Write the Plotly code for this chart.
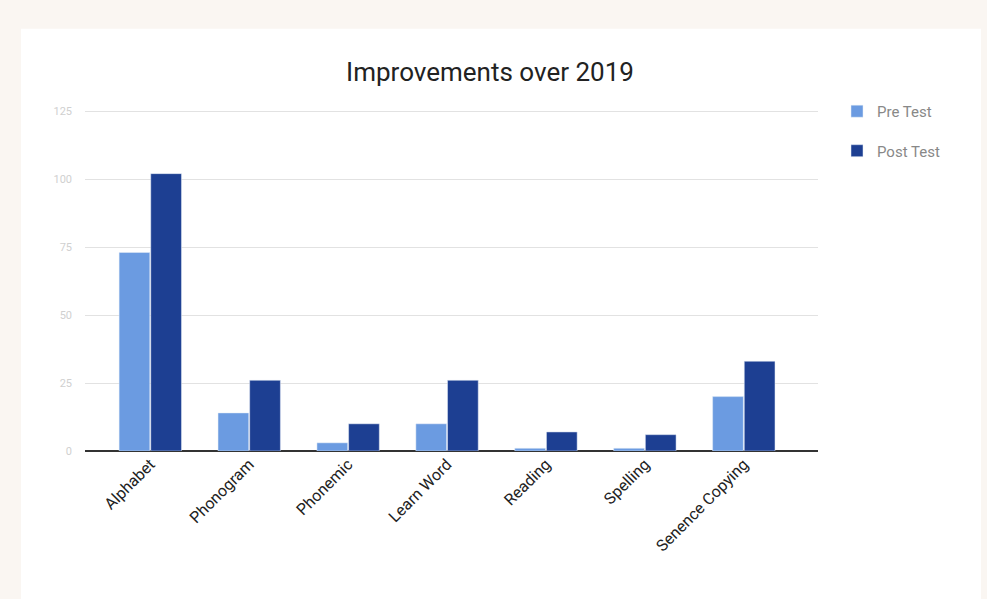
import plotly.graph_objects as go

categories = ["Alphabet", "Phonogram", "Phonemic", "Learn Word", "Reading", "Spelling", "Senence Copying"]
pre_test = [73, 14, 3, 10, 1, 1, 20]
post_test = [102, 26, 10, 26, 7, 6, 33]
y_ticks = [0, 25, 50, 75, 100, 125]

fig = go.Figure()
fig.add_trace(go.Bar(x=categories, y=pre_test, name="Pre Test", marker_color="#6b9be1",
                     legendgroup="a"))
fig.add_trace(go.Bar(x=categories, y=post_test, name="Post Test", marker_color="#1d3f92",
                     legendgroup="b"))

pw = 987 - 85 - 169
ph = 599 - 111 - 148
fig.update_layout(
    width=987, height=599,
    paper_bgcolor="#faf6f2",
    plot_bgcolor="white",
    margin=dict(l=85, r=169, t=110, b=148),
    barmode="group",
    bargap=0.36,
    bargroupgap=0.03,
    title=dict(text="Improvements over 2019", x=490/987, xanchor="center",
               y=1-72/599, yanchor="middle",
               font=dict(family="Roboto", size=26, color="#222")),
    font=dict(family="Roboto"),
    legend=dict(x=(837-85)/pw, y=(451-96)/ph, yanchor="top", xanchor="left",
                font=dict(size=15, color="#888"), tracegroupgap=17,
                itemwidth=30,
                bgcolor="rgba(0,0,0,0)"),
    shapes=[dict(type="rect", xref="paper", yref="paper", layer="below",
                 x0=(21-85)/pw, x1=(981-85)/pw,
                 y0=-148/ph, y1=(451-30)/ph,
                 fillcolor="white", line=dict(width=0))],
)
fig.update_xaxes(range=[-0.66, 6.75], tickangle=-45, tickfont=dict(size=16, color="#222"),
                 showline=False, ticks="")
fig.update_yaxes(range=[0, 125.4], tickvals=y_ticks, tickfont=dict(size=11, color="#d0d0d0"),
                 gridcolor="#e2e2e2", zeroline=True, zerolinecolor="#333", zerolinewidth=1.5,
                 ticks="", ticklabelstandoff=12)

fig.write_html("out.html")
